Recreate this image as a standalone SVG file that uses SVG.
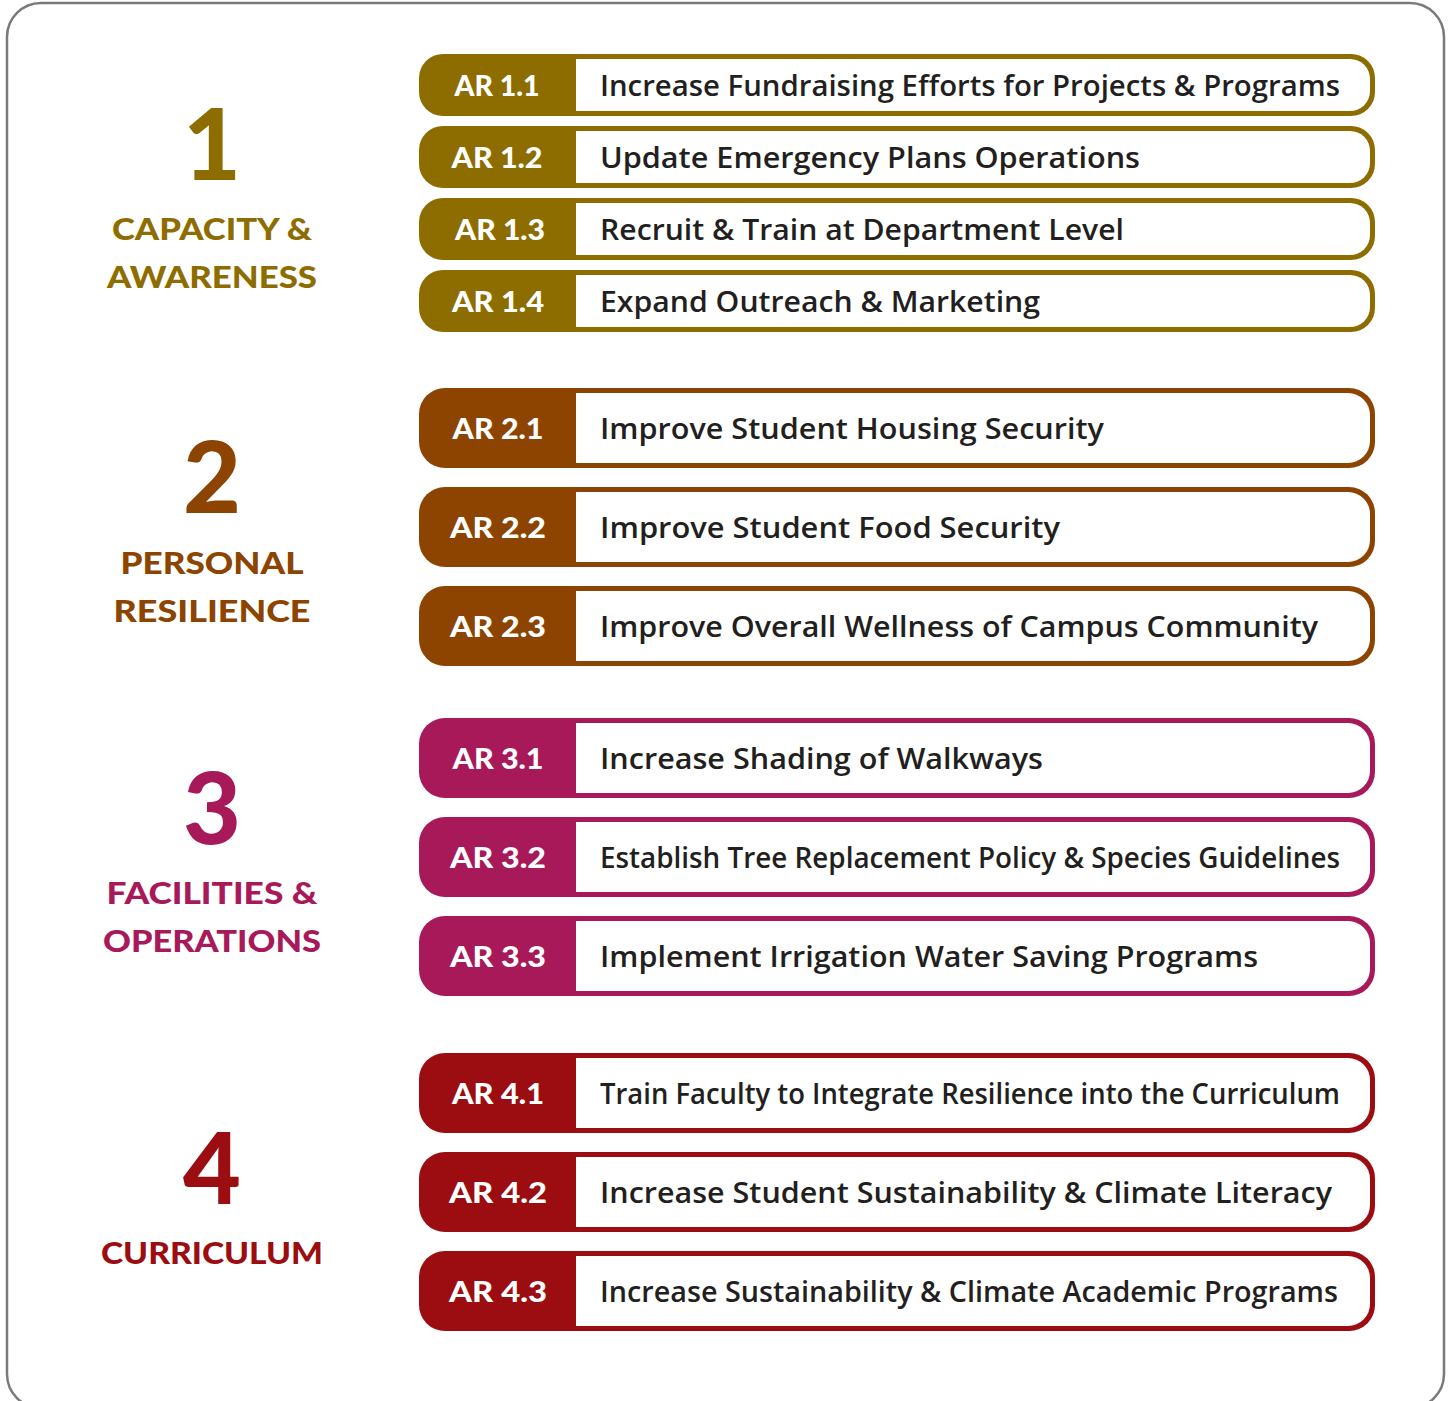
<svg xmlns="http://www.w3.org/2000/svg" width="1452" height="1401" viewBox="0 0 1452 1401">
<style>
.frame{fill:#fff;stroke:#7a7a7a;stroke-width:2.5}
.c1{fill:#8E6D00}.c2{fill:#8C4400}.c3{fill:#A8195A}.c4{fill:#9B0D10}
.inner{fill:#fff}
.code{font-family:"Lato","Liberation Sans",sans-serif;font-weight:900;font-size:29px;fill:#fff;text-anchor:middle}
.desc{font-family:"Open Sans","Liberation Sans",sans-serif;font-weight:600;font-size:28px;fill:#231f20}
.num{font-family:"Lato","Liberation Sans",sans-serif;font-weight:900;font-size:100px;text-anchor:middle}
.cat{font-family:"Lato","Liberation Sans",sans-serif;font-weight:900;font-size:31px;text-anchor:middle}
.t1{fill:#8E6D00}.t2{fill:#8C4400}.t3{fill:#A8195A}.t4{fill:#9B0D10}
</style>
<rect class="frame" x="7" y="3" width="1437" height="1405" rx="34"/>

<g id="cat1">
<text class="num t1" x="212" y="180">1</text>
<text class="cat t1" x="212" y="240" textLength="200" lengthAdjust="spacingAndGlyphs">CAPACITY &amp;</text>
<text class="cat t1" x="212" y="288" textLength="210" lengthAdjust="spacingAndGlyphs">AWARENESS</text>
</g>
<g id="cat2">
<text class="num t2" x="212" y="513">2</text>
<text class="cat t2" x="212" y="574" textLength="183" lengthAdjust="spacingAndGlyphs">PERSONAL</text>
<text class="cat t2" x="212" y="622" textLength="197" lengthAdjust="spacingAndGlyphs">RESILIENCE</text>
</g>
<g id="cat3">
<text class="num t3" x="212" y="844">3</text>
<text class="cat t3" x="212" y="904" textLength="211" lengthAdjust="spacingAndGlyphs">FACILITIES &amp;</text>
<text class="cat t3" x="212" y="952" textLength="218" lengthAdjust="spacingAndGlyphs">OPERATIONS</text>
</g>
<g id="cat4">
<text class="num t4" x="212" y="1204">4</text>
<text class="cat t4" x="212" y="1264" textLength="222" lengthAdjust="spacingAndGlyphs">CURRICULUM</text>
</g>

<g id="ar11"><rect class="c1" x="419" y="54" width="956" height="62" rx="24"/><path class="inner" d="M576,59H1350A20,20 0 0 1 1370,79V91A20,20 0 0 1 1350,111H576Z"/><text class="code" x="497" y="96" textLength="85" lengthAdjust="spacingAndGlyphs">AR 1.1</text><text class="desc" x="600" y="96" textLength="740" lengthAdjust="spacingAndGlyphs">Increase Fundraising Efforts for Projects &amp; Programs</text></g>
<g id="ar12"><rect class="c1" x="419" y="126" width="956" height="62" rx="24"/><path class="inner" d="M576,131H1350A20,20 0 0 1 1370,151V163A20,20 0 0 1 1350,183H576Z"/><text class="code" x="497" y="168" textLength="91" lengthAdjust="spacingAndGlyphs">AR 1.2</text><text class="desc" x="600" y="168" textLength="540" lengthAdjust="spacingAndGlyphs">Update Emergency Plans Operations</text></g>
<g id="ar13"><rect class="c1" x="419" y="198" width="956" height="62" rx="24"/><path class="inner" d="M576,203H1350A20,20 0 0 1 1370,223V235A20,20 0 0 1 1350,255H576Z"/><text class="code" x="500" y="240" textLength="90" lengthAdjust="spacingAndGlyphs">AR 1.3</text><text class="desc" x="600" y="240" textLength="524" lengthAdjust="spacingAndGlyphs">Recruit &amp; Train at Department Level</text></g>
<g id="ar14"><rect class="c1" x="419" y="270" width="956" height="62" rx="24"/><path class="inner" d="M576,275H1350A20,20 0 0 1 1370,295V307A20,20 0 0 1 1350,327H576Z"/><text class="code" x="498" y="312" textLength="92" lengthAdjust="spacingAndGlyphs">AR 1.4</text><text class="desc" x="600" y="312" textLength="440" lengthAdjust="spacingAndGlyphs">Expand Outreach &amp; Marketing</text></g>

<g id="ar21"><rect class="c2" x="419" y="388" width="956" height="80" rx="26"/><path class="inner" d="M576,393H1348A22,22 0 0 1 1370,415V441A22,22 0 0 1 1348,463H576Z"/><text class="code" x="498" y="439" textLength="91" lengthAdjust="spacingAndGlyphs">AR 2.1</text><text class="desc" x="600" y="439" textLength="504" lengthAdjust="spacingAndGlyphs">Improve Student Housing Security</text></g>
<g id="ar22"><rect class="c2" x="419" y="487" width="956" height="80" rx="26"/><path class="inner" d="M576,492H1348A22,22 0 0 1 1370,514V540A22,22 0 0 1 1348,562H576Z"/><text class="code" x="498" y="538" textLength="96" lengthAdjust="spacingAndGlyphs">AR 2.2</text><text class="desc" x="600" y="538" textLength="460" lengthAdjust="spacingAndGlyphs">Improve Student Food Security</text></g>
<g id="ar23"><rect class="c2" x="419" y="586" width="956" height="80" rx="26"/><path class="inner" d="M576,591H1348A22,22 0 0 1 1370,613V639A22,22 0 0 1 1348,661H576Z"/><text class="code" x="498" y="637" textLength="96" lengthAdjust="spacingAndGlyphs">AR 2.3</text><text class="desc" x="600" y="637" textLength="718" lengthAdjust="spacingAndGlyphs">Improve Overall Wellness of Campus Community</text></g>

<g id="ar31"><rect class="c3" x="419" y="718" width="956" height="80" rx="26"/><path class="inner" d="M576,723H1348A22,22 0 0 1 1370,745V771A22,22 0 0 1 1348,793H576Z"/><text class="code" x="498" y="769" textLength="91" lengthAdjust="spacingAndGlyphs">AR 3.1</text><text class="desc" x="600" y="769" textLength="443" lengthAdjust="spacingAndGlyphs">Increase Shading of Walkways</text></g>
<g id="ar32"><rect class="c3" x="419" y="817" width="956" height="80" rx="26"/><path class="inner" d="M576,822H1348A22,22 0 0 1 1370,844V870A22,22 0 0 1 1348,892H576Z"/><text class="code" x="498" y="868" textLength="96" lengthAdjust="spacingAndGlyphs">AR 3.2</text><text class="desc" x="600" y="868" textLength="740" lengthAdjust="spacingAndGlyphs">Establish Tree Replacement Policy &amp; Species Guidelines</text></g>
<g id="ar33"><rect class="c3" x="419" y="916" width="956" height="80" rx="26"/><path class="inner" d="M576,921H1348A22,22 0 0 1 1370,943V969A22,22 0 0 1 1348,991H576Z"/><text class="code" x="498" y="967" textLength="96" lengthAdjust="spacingAndGlyphs">AR 3.3</text><text class="desc" x="600" y="967" textLength="658" lengthAdjust="spacingAndGlyphs">Implement Irrigation Water Saving Programs</text></g>

<g id="ar41"><rect class="c4" x="419" y="1053" width="956" height="80" rx="26"/><path class="inner" d="M576,1058H1348A22,22 0 0 1 1370,1080V1106A22,22 0 0 1 1348,1128H576Z"/><text class="code" x="498" y="1104" textLength="92" lengthAdjust="spacingAndGlyphs">AR 4.1</text><text class="desc" x="600" y="1104" textLength="740" lengthAdjust="spacingAndGlyphs">Train Faculty to Integrate Resilience into the Curriculum</text></g>
<g id="ar42"><rect class="c4" x="419" y="1152" width="956" height="80" rx="26"/><path class="inner" d="M576,1157H1348A22,22 0 0 1 1370,1179V1205A22,22 0 0 1 1348,1227H576Z"/><text class="code" x="498" y="1203" textLength="98" lengthAdjust="spacingAndGlyphs">AR 4.2</text><text class="desc" x="600" y="1203" textLength="732" lengthAdjust="spacingAndGlyphs">Increase Student Sustainability &amp; Climate Literacy</text></g>
<g id="ar43"><rect class="c4" x="419" y="1251" width="956" height="80" rx="26"/><path class="inner" d="M576,1256H1348A22,22 0 0 1 1370,1278V1304A22,22 0 0 1 1348,1326H576Z"/><text class="code" x="498" y="1302" textLength="98" lengthAdjust="spacingAndGlyphs">AR 4.3</text><text class="desc" x="600" y="1302" textLength="738" lengthAdjust="spacingAndGlyphs">Increase Sustainability &amp; Climate Academic Programs</text></g>

<g id="connectors"></g>
</svg>
